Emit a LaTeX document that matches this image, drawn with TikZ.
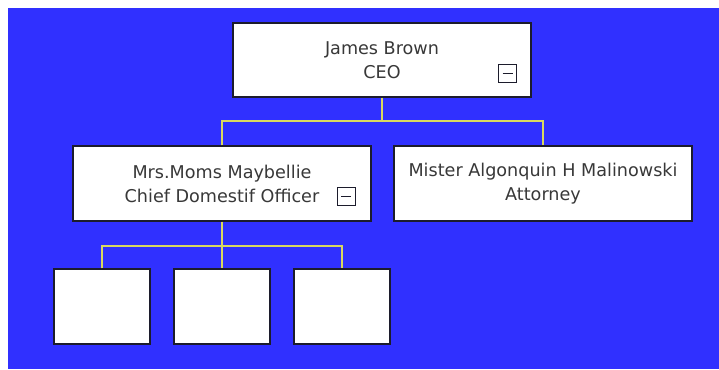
\documentclass[tikz,border=0pt]{standalone}
\usepackage{fontspec}
\setmainfont{DejaVu Sans}
\definecolor{bgblue}{HTML}{3030FF}
\definecolor{conncol}{HTML}{D8D860}
\definecolor{txtcol}{HTML}{383838}
\definecolor{edgecol}{HTML}{1C1C2C}
\begin{document}
\begin{tikzpicture}[x=1pt,y=-1pt,
  card/.style={draw=edgecol,line width=1.3pt,fill=white,rectangle,inner sep=0pt,
    text=txtcol,align=center,font=\fontsize{17.6}{24}\selectfont},
  conn/.style={draw=conncol,line width=1.4pt},
  btn/.style={draw=edgecol,line width=0.9pt,fill=white,rectangle,inner sep=0pt,
    minimum width=18pt,minimum height=18pt}]
\useasboundingbox (0,0) rectangle (719,369);
\fill[white] (0,0) rectangle (719,369);
\fill[bgblue] (8,8) rectangle (719,369);
% main cards
\node[card,minimum width=298pt,minimum height=74pt] (ceo) at (382,60) {James Brown\\CEO};
\node[card,minimum width=298pt,minimum height=75pt] (mrs) at (222,183.5) {Mrs.Moms Maybellie\\Chief Domestif Officer};
\node[card,minimum width=298pt,minimum height=75pt] (att) at (543,183.5) {Mister Algonquin H Malinowski\\Attorney};
% empty cards
\node[card,minimum width=96pt,minimum height=75pt] (c1) at (102,306.5) {};
\node[card,minimum width=96pt,minimum height=75pt] (c2) at (222,306.5) {};
\node[card,minimum width=96pt,minimum height=75pt] (c3) at (342,306.5) {};
% collapse buttons
\node[btn] (b1) at (507.5,73) {};
\draw[edgecol,line width=0.9pt] ([xshift=-5pt]b1.center) -- ([xshift=5pt]b1.center);
\node[btn] (b2) at (346,196) {};
\draw[edgecol,line width=0.9pt] ([xshift=-5pt]b2.center) -- ([xshift=5pt]b2.center);
% connectors
\coordinate (j1) at (382,121);
\coordinate (j2) at (222,246);
\draw[conn] (ceo.south) -- (j1);
\draw[conn] (mrs.north) |- (j1) -| (att.north);
\draw[conn] (mrs.south) -- (c2.north);
\draw[conn] (c1.north) |- (j2) -| (c3.north);
\end{tikzpicture}
\end{document}
